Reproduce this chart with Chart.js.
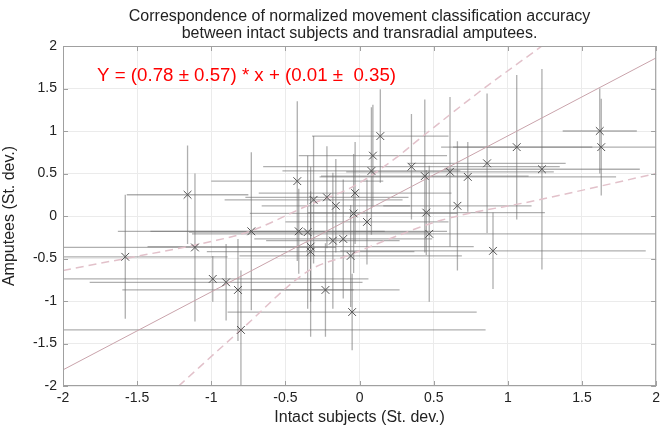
<!DOCTYPE html>
<html>
<head>
<meta charset="utf-8">
<script src="https://cdn.jsdelivr.net/npm/chart.js@4"></script>
<style>
  html, body { margin: 0; padding: 0; background: #fff; }
</style>
</head>
<body>
<canvas id="chart" width="664" height="427"></canvas>
<script>
// intact subjects (x) vs amputees (y), in st. dev.
const intactX = [-1.58, -1.16, -1.11, -0.99, -0.90, -0.82, -0.80, -0.73, -0.42, -0.41,
  -0.35, -0.33, -0.33, -0.31, -0.22, -0.16, -0.18, -0.11, -0.23, -0.06,
  -0.05, -0.04, -0.03, 0.05, 0.08, 0.09, 0.14, 0.35, 0.44, 0.45,
  0.47, 0.61, 0.66, 0.73, 0.86, 0.90, 1.06, 1.23, 1.62, 1.63];
const amputeeY = [-0.48, 0.25, -0.37, -0.74, -0.78, -0.87, -1.34, -0.18, 0.41, -0.18,
  -0.19, -0.36, -0.42, 0.19, 0.22, 0.12, -0.29, -0.27, -0.87, -0.47,
  -1.13, 0.03, 0.27, -0.07, 0.53, 0.71, 0.94, 0.58, 0.47, 0.04,
  -0.21, 0.52, 0.12, 0.46, 0.62, -0.41, 0.81, 0.55, 1.00, 0.81];
const intactErr = [0.69, 0.41, 0.95, 1.05, 0.92, 0.78, 1.65, 0.90, 0.58, 1.00,
  0.80, 1.10, 0.70, 0.60, 0.55, 0.50, 0.45, 0.60, 0.50, 0.75,
  0.84, 0.70, 0.65, 0.55, 0.60, 0.50, 0.46, 1.00, 0.70, 0.80,
  1.60, 0.70, 0.50, 1.00, 0.53, 1.03, 0.51, 0.66, 0.25, 1.00];
const amputeeErr = [0.73, 0.58, 0.87, 0.27, 0.45, 0.60, 0.70, 0.93, 0.94, 0.50,
  0.90, 0.65, 1.00, 0.75, 0.60, 0.55, 0.80, 0.70, 0.55, 0.60,
  0.45, 0.70, 0.60, 0.50, 0.75, 0.60, 0.55, 0.62, 0.90, 0.50,
  0.80, 0.88, 0.76, 0.41, 0.82, 0.45, 0.85, 1.18, 0.50, 0.57];

// fitted line and its bounds as drawn
const fitX = [-2, 2];
const fitY = [-1.81, 1.86];
const upperX = [-2, -1.58, -1.0, -0.74, -0.34, -0.05, 0.25, 0.42, 0.8, 1.23];
const upperY = [-0.64, -0.50, -0.30, -0.18, 0.13, 0.34, 0.69, 0.93, 1.45, 2.0];
const lowerX = [-1.22, -0.8, -0.34, -0.07, 0.2, 0.55, 1.21, 2];
const lowerY = [-2.0, -1.34, -0.64, -0.46, -0.27, -0.05, 0.19, 0.5];

const tickValues = [-2, -1.5, -1, -0.5, 0, 0.5, 1, 1.5, 2];
const titleLines = [
  "Correspondence of normalized movement classification accuracy",
  "between intact subjects and transradial amputees."
];
const fitLabel = "Y = (0.78 \u00b1 0.57) * x + (0.01 \u00b1  0.35)";

const FONT = "'Liberation Sans', Arial, sans-serif";

const errorBars = {
  id: "errorBars",
  beforeDatasetsDraw(chart) {
    const { ctx, chartArea: a, scales: { x, y } } = chart;
    ctx.save();
    ctx.beginPath();
    ctx.rect(a.left, a.top, a.width, a.height);
    ctx.clip();
    ctx.strokeStyle = "rgba(110,110,110,0.55)";
    ctx.lineWidth = 1.3;
    intactX.forEach((xv, i) => {
      const yv = amputeeY[i];
      const px = x.getPixelForValue(xv);
      const py = y.getPixelForValue(yv);
      ctx.beginPath();
      ctx.moveTo(x.getPixelForValue(xv - intactErr[i]), py);
      ctx.lineTo(x.getPixelForValue(xv + intactErr[i]), py);
      ctx.moveTo(px, y.getPixelForValue(yv - amputeeErr[i]));
      ctx.lineTo(px, y.getPixelForValue(yv + amputeeErr[i]));
      ctx.stroke();
    });
    ctx.restore();
  }
};

const frame = {
  id: "frame",
  afterDraw(chart) {
    const { ctx, chartArea: a, scales: { x, y } } = chart;
    ctx.save();
    // box with inward ticks, matlab style
    ctx.strokeStyle = "#a0a0a0";
    ctx.lineWidth = 1;
    ctx.strokeRect(a.left + 0.5, a.top + 0.5, a.width - 1, a.height - 1);
    ctx.beginPath();
    tickValues.forEach(v => {
      const px = Math.round(x.getPixelForValue(v)) + 0.5;
      const py = Math.round(y.getPixelForValue(v)) + 0.5;
      ctx.moveTo(px, a.bottom); ctx.lineTo(px, a.bottom - 5);
      ctx.moveTo(px, a.top); ctx.lineTo(px, a.top + 5);
      ctx.moveTo(a.left, py); ctx.lineTo(a.left + 5, py);
      ctx.moveTo(a.right, py); ctx.lineTo(a.right - 5, py);
    });
    ctx.stroke();

    // title
    ctx.fillStyle = "#222";
    ctx.font = "16px " + FONT;
    ctx.textAlign = "center";
    ctx.textBaseline = "middle";
    const cx = (a.left + a.right) / 2;
    ctx.fillText(titleLines[0], cx, 17);
    ctx.fillText(titleLines[1], cx, 34);

    // fit equation
    ctx.fillStyle = "#ff0000";
    ctx.font = "18.7px " + FONT;
    ctx.textAlign = "left";
    ctx.fillText(fitLabel, x.getPixelForValue(-1.77), y.getPixelForValue(1.65));
    ctx.restore();
  }
};

const points = intactX.map((v, i) => ({ x: v, y: amputeeY[i] }));
const pairs = (xs, ys) => xs.map((v, i) => ({ x: v, y: ys[i] }));
const setTicks = s => { s.ticks = tickValues.map(v => ({ value: v })); };

new Chart(document.getElementById("chart"), {
  type: "scatter",
  data: {
    datasets: [
      {
        data: points,
        pointStyle: "crossRot",
        pointRadius: 5.5,
        borderColor: "#505050",
        borderWidth: 1,
        order: 0
      },
      {
        type: "line",
        data: pairs(fitX, fitY),
        borderColor: "#c9a3ab",
        borderWidth: 1,
        pointRadius: 0,
        order: 1
      },
      {
        type: "line",
        data: pairs(upperX, upperY),
        borderColor: "#e2c1ca",
        borderWidth: 1.5,
        borderDash: [8, 5],
        pointRadius: 0,
        cubicInterpolationMode: "monotone",
        order: 1
      },
      {
        type: "line",
        data: pairs(lowerX, lowerY),
        borderColor: "#e2c1ca",
        borderWidth: 1.5,
        borderDash: [8, 5],
        pointRadius: 0,
        cubicInterpolationMode: "monotone",
        order: 1
      }
    ]
  },
  options: {
    responsive: false,
    animation: false,
    devicePixelRatio: 1,
    layout: { padding: { top: 46, right: 6, left: 0, bottom: 0 } },
    plugins: {
      legend: { display: false },
      tooltip: { enabled: false }
    },
    scales: {
      x: {
        type: "linear",
        min: -2,
        max: 2,
        afterBuildTicks: setTicks,
        afterFit: s => { s.height = 41; },
        grid: { color: "#ebebeb", drawTicks: false },
        border: { display: false },
        ticks: {
          color: "#222",
          font: { size: 14, family: FONT },
          padding: 4,
          maxRotation: 0,
          callback: v => String(v)
        },
        title: {
          display: true,
          text: "Intact subjects (St. dev.)",
          color: "#222",
          font: { size: 16, family: FONT },
          padding: { top: 0, bottom: 0 }
        }
      },
      y: {
        type: "linear",
        min: -2,
        max: 2,
        afterBuildTicks: setTicks,
        afterFit: s => { s.width = 63; },
        grid: { color: "#ebebeb", drawTicks: false },
        border: { display: false },
        ticks: {
          color: "#222",
          font: { size: 14, family: FONT },
          padding: 6,
          callback: v => String(v)
        },
        title: {
          display: true,
          text: "Amputees (St. dev.)",
          color: "#222",
          font: { size: 16, family: FONT },
          padding: { top: 0, bottom: 2 }
        }
      }
    }
  },
  plugins: [errorBars, frame]
});
</script>
</body>
</html>
